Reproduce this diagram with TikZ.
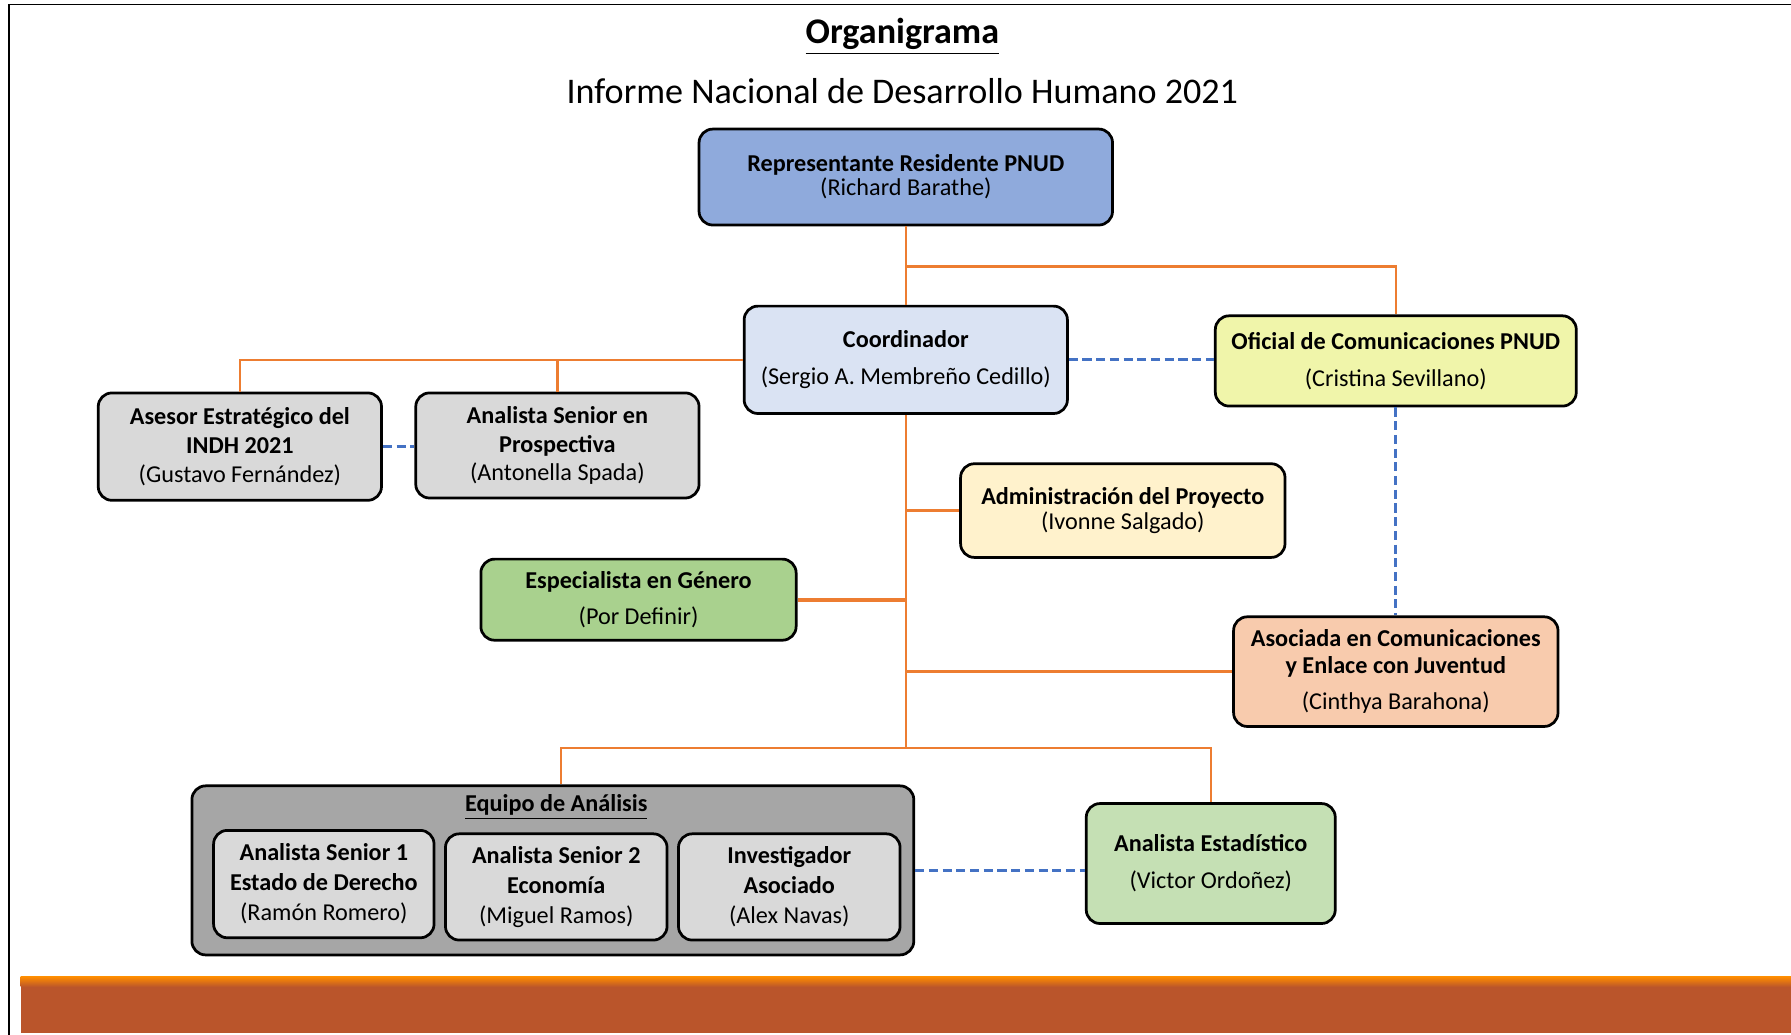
\documentclass[tikz,border=0pt]{standalone}
\usepackage{fontspec}
\setmainfont{Carlito}
\usetikzlibrary{positioning}
\definecolor{naranja}{HTML}{ED7D31}
\definecolor{azul}{HTML}{4472C4}
\definecolor{barra}{HTML}{BA552B}
\begin{document}
\begin{tikzpicture}[x=0.5pt, y=-0.5pt,
    box/.style = {draw, rounded corners=6pt, line width=1.2pt, align=center, inner sep=0pt,
      font=\fontsize{10.6}{12.6}\selectfont},
    org/.style = {naranja, line width=1pt},
    enlace/.style = {azul, line width=1.3pt, dash pattern=on 4pt off 2pt}]
  \useasboundingbox (0,0) rectangle (1568,906);
  % marco y barra
  \draw[line width=0.6pt] (8,906) -- (8,4) -- (1568,4);
  \fill[barra] (18,858) rectangle (1568,904);
  \shade[top color=orange!90!yellow, bottom color=barra] (18,855) rectangle (1568,864);
  % titulos
  \node (tit) at (790,32) {\fontsize{15.8}{19}\selectfont\textbf{\underline{Organigrama}}};
  \node (sub) at (790,80) {\fontsize{15.8}{19}\selectfont Informe Nacional de Desarrollo Humano 2021};
  % cajas
  \node[box, fill={rgb,255:red,143;green,170;blue,220}, minimum width=181pt, minimum height=42pt] (rep) at (793,155)
    {\textbf{Representante Residente PNUD}\\[-2pt](Richard Barathe)};
  \node[box, fill={rgb,255:red,218;green,227;blue,243}, minimum width=141.5pt, minimum height=47pt] (coo) at (793,315)
    {\textbf{Coordinador}\\[3.5pt](Sergio A. Membreño Cedillo)};
  \node[box, fill={rgb,255:red,240;green,245;blue,170}, minimum width=158pt, minimum height=39.5pt] (ofi) at (1222,316)
    {\textbf{Oficial de Comunicaciones PNUD}\\[3.5pt](Cristina Sevillano)};
  \node[box, fill={rgb,255:red,217;green,217;blue,217}, minimum width=124pt, minimum height=47pt] (ase) at (210,391)
    {\textbf{Asesor Estratégico del}\\[0pt]\textbf{INDH 2021}\\[0pt](Gustavo Fernández)};
  \node[box, fill={rgb,255:red,217;green,217;blue,217}, minimum width=124pt, minimum height=46pt] (pro) at (488,390)
    {\textbf{Analista Senior en}\\[0pt]\textbf{Prospectiva}\\[0pt](Antonella Spada)};
  \node[box, fill={rgb,255:red,255;green,242;blue,204}, minimum width=142pt, minimum height=41pt] (adm) at (983,447)
    {\textbf{Administración del Proyecto}\\[-2pt](Ivonne Salgado)};
  \node[box, fill={rgb,255:red,169;green,209;blue,142}, minimum width=138pt, minimum height=35.5pt] (gen) at (559,525)
    {\textbf{Especialista en Género}\\[3.5pt](Por Definir)};
  \node[box, fill={rgb,255:red,248;green,203;blue,173}, minimum width=142pt, minimum height=48pt] (aso) at (1222,588)
    {\textbf{Asociada en Comunicaciones}\\[-1pt]\textbf{y Enlace con Juventud}\\[3.5pt](Cinthya Barahona)};
  \node[box, fill={rgb,255:red,166;green,166;blue,166}, minimum width=316pt, minimum height=74pt] (eq) at (484,762) {};
  \node (eqt) at (487,707) {\fontsize{10.6}{12.6}\selectfont\textbf{\underline{Equipo de Análisis}}};
  \node[box, fill={rgb,255:red,217;green,217;blue,217}, minimum width=96.5pt, minimum height=47pt] (as1) at (283.5,774)
    {\textbf{Analista Senior 1}\\[0.5pt]\textbf{Estado de Derecho}\\[0.5pt](Ramón Romero)};
  \node[box, fill={rgb,255:red,217;green,217;blue,217}, minimum width=97pt, minimum height=46.5pt] (as2) [right=3.8pt of as1, yshift=-1.25pt]
    {\textbf{Analista Senior 2}\\[0.5pt]\textbf{Economía}\\[0.5pt](Miguel Ramos)};
  \node[box, fill={rgb,255:red,217;green,217;blue,217}, minimum width=97pt, minimum height=46.5pt] (inv) [right=3.8pt of as2]
    {\textbf{Investigador}\\[0.5pt]\textbf{Asociado}\\[0.5pt](Alex Navas)};
  \node[box, fill={rgb,255:red,197;green,224;blue,180}, minimum width=109pt, minimum height=52.5pt] (est) at (1060,756)
    {\textbf{Analista Estadístico}\\[3.5pt](Victor Ordoñez)};
  \coordinate (hub) at (793,655);
  % lineas
  \draw[org] (rep.south) -- (coo.north);
  \draw[org] (rep.south) -- ++(0,35) -| (ofi.north);
  \draw[org] (coo.west) -| (ase.north);
  \draw[org] (coo.west) -| (pro.north);
  \draw[org] (coo.south) -- (hub);
  \draw[org] (coo.south |- adm.west) -- (adm.west);
  \draw[org, line width=1.6pt] (gen.east) -- (gen.east -| coo.south);
  \draw[org] (coo.south |- aso.west) -- (aso.west);
  \draw[org] ([xshift=3.5pt]eq.north) |- (hub) -| (est.north);
  \draw[enlace] (coo.east) -- (coo.east -| ofi.west);
  \draw[enlace] (ase.east) -- (ase.east -| pro.west);
  \draw[enlace] (ofi.south) -- (aso.north);
  \draw[enlace] (eq.east) -- (eq.east -| est.west);
\end{tikzpicture}
\end{document}
